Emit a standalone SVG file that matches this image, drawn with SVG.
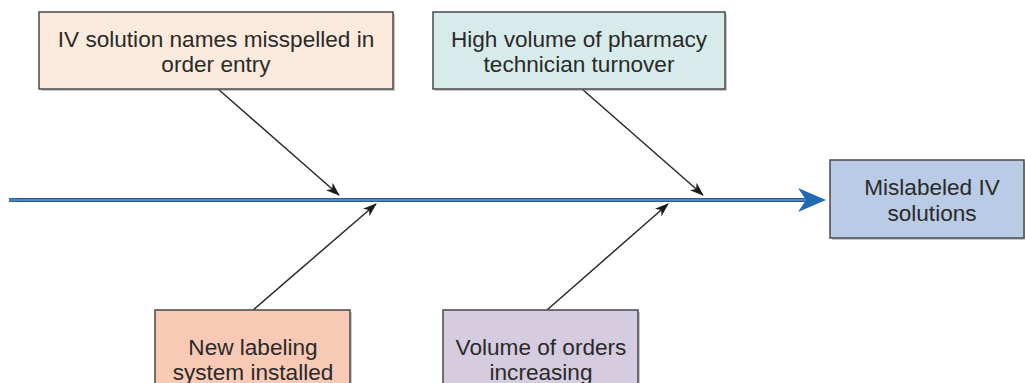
<svg xmlns="http://www.w3.org/2000/svg" width="1025" height="383" viewBox="0 0 1025 383">
  <style>
    .box { stroke: #4a4a4a; stroke-width: 1.5; }
    .shadow { fill: #8a8a8a; opacity: 0.45; }
    .label { font-family: "Liberation Sans", Arial, sans-serif; font-size: 22.6px; fill: #2a2a2a; text-anchor: middle; }
    .cause { stroke: #2a2a2a; stroke-width: 1.5; fill: none; marker-end: url(#head); }
  </style>
  <defs>
    <!-- small filled arrowhead for the cause branches -->
    <marker id="head" viewBox="0 0 14 10" refX="13" refY="5" markerWidth="14" markerHeight="10" markerUnits="userSpaceOnUse" orient="auto">
      <path d="M0,0 L14,5 L0,10 L4,5 Z" fill="#1a1a1a"/>
    </marker>
  </defs>

  <rect width="1025" height="383" fill="#ffffff"/>

  <!-- connectors: main spine and cause branches -->
  <g id="connectors">
    <line x1="9" y1="200" x2="806" y2="200" stroke="#245e9a" stroke-width="4"/>
    <line x1="9" y1="200" x2="806" y2="200" stroke="#7fb2e0" stroke-width="1"/>
    <path d="M826,200 L798,188 L806,200 L798,212 Z" fill="#1f6bb3"/>

    <line class="cause" x1="218" y1="89" x2="339" y2="195"/>
    <line class="cause" x1="582" y1="89" x2="703" y2="195"/>
    <line class="cause" x1="253" y1="310" x2="376" y2="204"/>
    <line class="cause" x1="547" y1="310" x2="668" y2="204"/>
  </g>

  <g id="cause-misspelled">
    <rect class="shadow" x="41" y="14" width="354" height="77"/>
    <rect class="box" x="39" y="12" width="354" height="77" fill="#fcebdc"/>
    <text class="label" x="216" y="47">IV solution names misspelled in</text>
    <text class="label" x="216" y="72">order entry</text>
  </g>

  <g id="cause-turnover">
    <rect class="shadow" x="435" y="14" width="292" height="77"/>
    <rect class="box" x="433" y="12" width="292" height="77" fill="#d7ebeb"/>
    <text class="label" x="579" y="47">High volume of pharmacy</text>
    <text class="label" x="579" y="72">technician turnover</text>
  </g>

  <g id="effect">
    <rect class="shadow" x="832" y="162" width="194" height="78"/>
    <rect class="box" x="830" y="160" width="194" height="78" fill="#b9cbe5"/>
    <text class="label" x="932" y="195">Mislabeled IV</text>
    <text class="label" x="932" y="221">solutions</text>
  </g>

  <g id="cause-labeling">
    <rect class="shadow" x="157" y="312" width="195" height="80"/>
    <rect class="box" x="155" y="310" width="195" height="80" fill="#f8c9b5"/>
    <text class="label" x="253" y="355">New labeling</text>
    <text class="label" x="253" y="380">system installed</text>
  </g>

  <g id="cause-orders">
    <rect class="shadow" x="445" y="312" width="195" height="80"/>
    <rect class="box" x="443" y="310" width="195" height="80" fill="#d6cce0"/>
    <text class="label" x="541" y="355">Volume of orders</text>
    <text class="label" x="541" y="380">increasing</text>
  </g>
</svg>
